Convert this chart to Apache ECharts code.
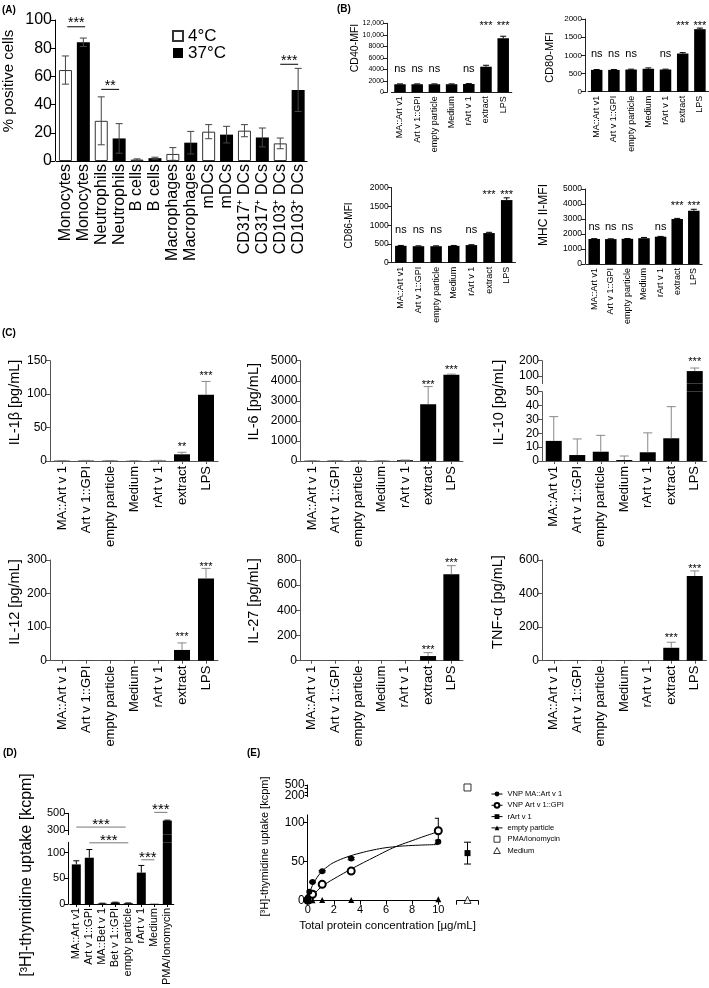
<!DOCTYPE html>
<html><head><meta charset="utf-8">
<script src="https://cdn.jsdelivr.net/npm/echarts@6/dist/echarts.min.js"></script>
<style>html,body{margin:0;padding:0;background:#fff}#c{width:709px;height:988px}</style>
</head><body><div id="c"></div>
<script>
// ================= DATA =================
// (A)
const cellTypes = ['Monocytes','Neutrophils','B cells','Macrophages','mDCs','CD317⁺ DCs','CD103⁺ DCs'];
const pos4C  = [64.5, 28.5, 1.0, 5.0, 20.8, 21.5, 12.5];
const err4C  = [10, 17, 0.5, 4.5, 5, 4.3, 3.8];
const pos37C = [84.2, 16.0, 2.0, 13.0, 18.7, 16.7, 50.4];
const err37C = [3, 10.5, 0.7, 8, 5.9, 6.7, 15.3];
const sigA   = [[0.1, 1.1, 95.2, '***'], [2, 3, 50.8, '**'], [12, 13, 68.6, '***']];
// (B)
const stimB  = ['MA::Art v1','Art v 1::GPI','empty particle','Medium','rArt v 1','extract','LPS'];
const sigB   = ['ns','ns','ns','','ns','***','***'];
const cd40   = [1400, 1400, 1400, 1400, 1450, 4450, 9400];
const cd40E  = [60, 60, 60, 60, 60, 250, 350];
const cd80   = [600, 600, 610, 630, 610, 1050, 1720];
const cd80E  = [10, 10, 10, 25, 10, 25, 30];
const cd86   = [450, 440, 440, 450, 470, 790, 1670];
const cd86E  = [10, 10, 10, 10, 10, 20, 60];
const mhc2   = [1670, 1660, 1680, 1720, 1820, 3000, 3550];
const mhc2E  = [20, 20, 20, 50, 20, 40, 100];
// (C)
const stimC  = ['MA::Art v 1','Art v 1::GPI','empty particle','Medium','rArt v 1','extract','LPS'];
const stimC10= ['MA::Art v1','Art v 1::GPI','empty particle','Medium','rArt v 1','extract','LPS'];
const il1b   = [0.5, 0.6, 0.5, 0.3, 0.6, 10, 99];
const il1bE  = [0.3, 0.3, 0.3, 0.2, 0.4, 3, 20];
const il1bS  = [[5, 25.4, '**'], [6, 131.6, '***']];
const il6    = [15, 20, 20, 15, 40, 2830, 4300];
const il6E   = [5, 5, 5, 5, 10, 880, 30];
const il6S   = [[5, 3915, '***'], [6, 4650, '***']];
const il10   = [14.5, 4.3, 6.7, 0.7, 6.3, 16.4, 132];
const il10E  = [17.5, 11.6, 11.8, 2.9, 14, 22.8, 20];
const il10S  = [[6, 206, '***']];
const il12   = [0.3, 0.3, 0.3, 0.3, 0.5, 32, 245];
const il12E  = [0, 0, 0, 0, 0, 21, 30];
const il12S  = [[5, 78.6, '***'], [6, 288, '***']];
const il27   = [0.5, 0.5, 0.5, 0.5, 1, 37, 686];
const il27E  = [0, 0, 0, 0, 0, 27, 69];
const il27S  = [[5, 106, '***'], [6, 800, '***']];
const tnfa   = [1, 1, 1.5, 1, 1, 77, 505];
const tnfaE  = [0, 0, 0, 0, 0, 33, 30];
const tnfaS  = [[5, 153, '***'], [6, 560, '***']];
// (D)
const stimD  = ['MA::Art v1','Art v 1::GPI','MA::Bet v 1','Bet v 1::GPI','empty particle','rArt v 1','Medium','PMA/Ionomycin'];
const thyD   = [77, 90, 1, 3, 1.5, 61, 0.5, 415];
const thyDE  = [7, 16, 0.5, 0.5, 0.5, 14, 0, 5];
const sigDup = [[0, 3.8, 339, '***'], [6, 7, 511, '***']];
const sigDlo = [[1, 4, 119, '***'], [5, 6, 86, '***']];
// (E)
const conc    = [0.0137, 0.041, 0.123, 0.37, 1.11, 3.33, 10];
const vnpMA   = [1, 3, 11.5, 24, 37.7, 54, 75.6];
const vnpMAE  = [0, 0, 0, 1, 1, 1.5, 2];
const vnpGPI  = [0.5, 1.5, 3.5, 8.2, 21, 38, 89.7];
const vnpGPIE = [0, 0, 0, 1, 2, 3, 16];
const emptyP  = [0.3, 0.3, 0.5, 0.5, 0.8, 1, 2];
const fitX    = [0, 0.1, 0.25, 0.5, 1, 1.5, 2, 3, 4, 5, 6, 6.5, 7, 8, 9, 10];
const fitMA   = [0, 7, 15, 24, 36, 43.5, 49, 56, 61, 65, 68, 68.9, 69.8, 70.8, 71.5, 72];
const fitGPI  = [0, 1.8, 4.5, 9, 17, 23, 28, 37.5, 46.5, 55, 63.5, 67.5, 71, 77, 83, 88.5];
const rArtE   = 61, rArtEErr = 14, pmaE = 430, mediumE = 1;

// ================= BUILD =================
const F = '"Liberation Sans", Arial, Helvetica, sans-serif';
const plain = v => String(v);
const grid = [], xAxis = [], yAxis = [], series = [], graphic = [];

function panel(c) {
  const gi = grid.length;
  grid.push({left: c.rect[0], top: c.rect[1], width: c.rect[2], height: c.rect[3]});
  const lc = c.lineColor || '#000';
  xAxis.push({type: 'category', gridIndex: gi, data: c.cats, boundaryGap: true, show: c.xShow !== false,
    axisLine: {onZero: false, lineStyle: {color: lc, width: 1}},
    axisTick: {show: !!c.xTick, alignWithLabel: true, length: 3, lineStyle: {color: lc}},
    axisLabel: {interval: 0, rotate: 90, fontSize: c.xFont, fontFamily: F, color: '#000', margin: c.xMargin || 4},
    splitLine: {show: false}});
  const ya = {type: 'value', gridIndex: gi, min: c.min, max: c.max, offset: c.yOffset || 0, show: c.yShow !== false,
    axisLine: {show: true, onZero: false, lineStyle: {color: lc, width: 1}},
    axisTick: {show: true, length: 4, lineStyle: {color: lc}},
    axisLabel: {fontSize: c.yFont, fontFamily: F, color: '#000', margin: 3, hideOverlap: false, formatter: c.fmt || plain},
    splitLine: {show: false}};
  if (c.interval) ya.interval = c.interval;
  if (c.labels) { ya.axisLabel.customValues = c.labels; ya.axisTick.customValues = c.ticks || c.labels; }
  yAxis.push(ya);
  return gi;
}
function bars(gi, data, o) {
  series.push({type: 'bar', name: o.name, xAxisIndex: gi, yAxisIndex: gi, data: data, barWidth: o.bw,
    barGap: '-100%', clip: true, silent: true, z: 2,
    itemStyle: {color: o.fill || '#000', borderColor: o.border || o.fill || '#000', borderWidth: o.borderW || 0}});
}
function errs(gi, vals, err, o) {
  const d = [];
  vals.forEach((v, i) => { if (v !== '-' && err[i]) d.push([o.xs ? o.xs[i] : i, v, err[i]]); });
  series.push({type: 'custom', xAxisIndex: gi, yAxisIndex: gi, clip: true, silent: true, z: 4, data: d,
    renderItem: (p, api) => {
      const x = api.value(0), v = api.value(1), e = api.value(2);
      const t = api.coord([x, v + e]), b = api.coord([x, o.down ? v - e : v]);
      const cw = o.cap, st = {stroke: o.color || '#000', lineWidth: 1};
      const ch = [{type: 'line', shape: {x1: t[0], y1: t[1], x2: b[0], y2: b[1]}, style: st},
                  {type: 'line', shape: {x1: t[0] - cw, y1: t[1], x2: t[0] + cw, y2: t[1]}, style: st}];
      if (o.down) ch.push({type: 'line', shape: {x1: b[0] - cw, y1: b[1], x2: b[0] + cw, y2: b[1]}, style: st});
      return {type: 'group', children: ch};
    }});
}
function texts(gi, items, font) {
  series.push({type: 'custom', xAxisIndex: gi, yAxisIndex: gi, clip: false, silent: true, z: 6,
    data: items.map(it => [it[0], it[1]]),
    renderItem: (p, api) => {
      const it = items[p.dataIndex];
      const c = api.coord([api.value(0), api.value(1)]);
      const dy = it[2].indexOf('*') >= 0 ? 0.24 * font : 0;
      return {type: 'text', x: c[0], y: c[1] + dy,
        style: {text: it[2], fontSize: font, fontFamily: F, fill: '#000', align: 'center', verticalAlign: 'middle'}};
    }});
}
function sigLines(gi, items, o) {
  series.push({type: 'custom', xAxisIndex: gi, yAxisIndex: gi, clip: false, silent: true, z: 6,
    data: items.map(it => [0, it[2]]),
    renderItem: (p, api) => {
      const it = items[p.dataIndex];
      const bw = api.size([1, 0])[0];
      const c = api.coord([0, it[2]]);
      const x1 = c[0] + it[0] * bw, x2 = c[0] + it[1] * bw, y = c[1];
      return {type: 'group', children: [
        {type: 'line', shape: {x1: x1, y1: y, x2: x2, y2: y}, style: {stroke: o.color, lineWidth: 1}},
        {type: 'text', x: (x1 + x2) / 2, y: y - o.gap + 0.24 * o.font,
          style: {text: it[3], fontSize: o.font, fontFamily: F, fill: '#000', align: 'center', verticalAlign: 'middle'}}]};
    }});
}
// filler between the two halves of a broken axis: bars that pass the break stay continuous
function bridge(rect, cats, vals, breakAt, bw) {
  const gi = grid.length;
  grid.push({left: rect[0], top: rect[1], width: rect[2], height: rect[3]});
  xAxis.push({type: 'category', gridIndex: gi, data: cats, show: false});
  yAxis.push({type: 'value', gridIndex: gi, min: 0, max: 1, show: false});
  bars(gi, vals.map(v => v > breakAt ? 1 : '-'), {bw: bw});
}
function vtitle(x, y, text, size) {
  graphic.push({type: 'text', x: x, y: y, rotation: Math.PI / 2, silent: true,
    style: {text: text, fontSize: size, fontFamily: F, fill: '#000', align: 'center', verticalAlign: 'middle'}});
}
function htext(x, y, text, size, bold, align) {
  graphic.push({type: 'text', x: x, y: y, silent: true,
    style: {text: text, fontSize: size, fontFamily: F, fontWeight: bold ? 'bold' : 'normal', fill: '#000',
      align: align || 'left', verticalAlign: 'middle'}});
}
const sigItems = (levels) => sigB.map((s, i) => s ? [i, s === 'ns' ? levels[0] : levels[1], s] : null).filter(Boolean);

// ---------- (A) ----------
const catsA = []; const dA4 = [], dA37 = [], eA = [], vA = [];
cellTypes.forEach((c, i) => {
  catsA.push(c, c);
  dA4.push(pos4C[i], '-'); dA37.push('-', pos37C[i]);
  vA.push(pos4C[i], pos37C[i]); eA.push(err4C[i], err37C[i]);
});
const gA = panel({rect: [56.5, 20, 250.6, 141], cats: catsA, min: 0, max: 100, interval: 20,
  yOffset: 1.5, xFont: 16, yFont: 16, xMargin: 3});
bars(gA, dA4, {name: '4°C', bw: 13, fill: '#fff', border: '#333', borderW: 1});
bars(gA, dA37, {name: '37°C', bw: 13, fill: '#000'});
errs(gA, vA, eA, {cap: 3.5, down: true, color: '#444'});
sigLines(gA, sigA, {color: '#000', gap: 6.5, font: 14});
vtitle(9, 81, '% positive cells', 15);

// ---------- (B) ----------
const fmtB = v => v >= 10000 ? v.toLocaleString('en-US') : String(v);
const bCfg = {xFont: 9, yFont: 8, xMargin: 4, lineColor: '#222'};
const g40 = panel(Object.assign({rect: [391.4, 23.3, 120.4, 69], cats: stimB, min: 0, max: 12000, interval: 2000, yOffset: 4.4, fmt: fmtB}, bCfg, {yFont: 7}));
bars(g40, cd40, {bw: 11.5}); errs(g40, cd40, cd40E, {cap: 3, color: '#000'});
texts(g40, sigItems([4000, 12000]), 11);
const g80 = panel(Object.assign({rect: [588.1, 19, 120.4, 72.7], cats: stimB, min: 0, max: 2000, interval: 500, yOffset: 3.1}, bCfg));
bars(g80, cd80, {bw: 11.5}); errs(g80, cd80, cd80E, {cap: 3, color: '#000'});
texts(g80, sigItems([1037, 1882]), 11);
const g86 = panel(Object.assign({rect: [392, 187.7, 123.5, 75], cats: stimB, min: 0, max: 2000, interval: 500, yOffset: 0.3}, bCfg, {yFont: 8.5}));
bars(g86, cd86, {bw: 11.5}); errs(g86, cd86, cd86E, {cap: 3, color: '#000'});
texts(g86, sigItems([872, 1867]), 11);
const gMH = panel(Object.assign({rect: [585.9, 189, 116.2, 75], cats: stimB, min: 0, max: 5000, interval: 1000, yOffset: 0.9}, bCfg, {yFont: 8.5}));
bars(gMH, mhc2, {bw: 11.5}); errs(gMH, mhc2, mhc2E, {cap: 3, color: '#000'});
texts(gMH, sigItems([2487, 4047]), 11);
vtitle(355, 48, 'CD40-MFI', 10.5);
vtitle(549.7, 57.5, 'CD80-MFI', 11);
vtitle(349, 225.5, 'CD86-MFI', 10);
vtitle(543.3, 215, 'MHC II-MFI', 12);

// ---------- (C) ----------
const cCfg = {xFont: 13, yFont: 12, xMargin: 5, xTick: true, lineColor: '#555'};
const cErr = {cap: 4.5, color: '#888'};
const g1b = panel(Object.assign({rect: [50, 360.7, 168, 100.3], cats: stimC, min: 0, max: 150, interval: 50}, cCfg));
bars(g1b, il1b, {bw: 16}); errs(g1b, il1b, il1bE, cErr); texts(g1b, il1bS, 11);
const g6 = panel(Object.assign({rect: [300.5, 360.7, 162.5, 100.3], cats: stimC, min: 0, max: 5000, interval: 1000}, cCfg));
bars(g6, il6, {bw: 16}); errs(g6, il6, il6E, cErr); texts(g6, il6S, 11);
const g10lo = panel(Object.assign({rect: [542, 391.7, 164.5, 69.3], cats: stimC10, min: 0, max: 50, interval: 10}, cCfg));
bars(g10lo, il10, {bw: 16}); errs(g10lo, il10, il10E, cErr);
const g10up = panel(Object.assign({rect: [542, 360.7, 164.5, 22.9], cats: stimC10, min: 50, max: 200, labels: [100, 200], xShow: false}, cCfg));
bars(g10up, il10, {bw: 16}); errs(g10up, il10, il10E, cErr); texts(g10up, il10S, 11);
bridge([542, 383.6, 164.5, 8.1], stimC10, il10, 50, 16);
const g12 = panel(Object.assign({rect: [50, 560, 168, 100.7], cats: stimC, min: 0, max: 300, interval: 100}, cCfg));
bars(g12, il12, {bw: 16}); errs(g12, il12, il12E, cErr); texts(g12, il12S, 11);
const g27 = panel(Object.assign({rect: [300, 560, 163, 100.7], cats: stimC, min: 0, max: 800, interval: 200}, cCfg));
bars(g27, il27, {bw: 16}); errs(g27, il27, il27E, cErr); texts(g27, il27S, 11);
const gTN = panel(Object.assign({rect: [542, 560, 164.5, 100.7], cats: stimC, min: 0, max: 600, interval: 200}, cCfg));
bars(gTN, tnfa, {bw: 16}); errs(gTN, tnfa, tnfaE, cErr); texts(gTN, tnfaS, 11);
vtitle(15, 402.5, 'IL-1β [pg/mL]', 14.5);
vtitle(254, 401.7, 'IL-6 [pg/mL]', 14.5);
vtitle(499, 402.5, 'IL-10 [pg/mL]', 14.5);
vtitle(15, 602, 'IL-12 [pg/mL]', 14.5);
vtitle(254, 601, 'IL-27 [pg/mL]', 14.5);
vtitle(498, 602, 'TNF-α [pg/mL]', 14.5);

// ---------- (D) ----------
const dCfg = {xFont: 11, yFont: 11, xMargin: 4, xTick: true, lineColor: '#000', yOffset: 1.5};
const gDlo = panel(Object.assign({rect: [69.8, 842.3, 104, 61.7], cats: stimD, min: 0, max: 120, labels: [0, 50, 100]}, dCfg));
bars(gDlo, thyD, {bw: 9}); errs(gDlo, thyD, thyDE, {cap: 3, color: '#000'});
const gDup = panel(Object.assign({rect: [69.8, 813.3, 104, 21.4], cats: stimD, min: 250, max: 500, labels: [300, 500], xShow: false}, dCfg));
bars(gDup, thyD, {bw: 9}); errs(gDup, thyD, thyDE, {cap: 3, color: '#000'});
bridge([69.8, 834.7, 104, 7.6], stimD, thyD, 120, 9);
sigLines(gDlo, sigDlo, {color: '#777', gap: 6, font: 15});
sigLines(gDup, sigDup, {color: '#777', gap: 6.3, font: 15});
vtitle(27, 875, '[³H]-thymidine uptake [kcpm]', 16);

// ---------- (E) ----------
const axBase = (lc) => ({axisLine: {show: true, onZero: false, lineStyle: {color: lc, width: 1}}, splitLine: {show: false}});
const eLo = grid.length; grid.push({left: 307.7, top: 814.9, width: 130.6, height: 85.8});
xAxis.push(Object.assign({type: 'value', gridIndex: eLo, min: 0, max: 10, interval: 2,
  axisTick: {length: 4, lineStyle: {color: '#000'}}, axisLabel: {fontSize: 11, fontFamily: F, color: '#000', margin: 4, formatter: plain}}, axBase('#000')));
yAxis.push(Object.assign({type: 'value', gridIndex: eLo, min: 0, max: 110,
  axisTick: {length: 4, customValues: [0, 50, 100], lineStyle: {color: '#000'}},
  axisLabel: {customValues: [0, 50, 100], fontSize: 12, fontFamily: F, color: '#000', margin: 3, formatter: plain}}, axBase('#000')));
const eUp = grid.length; grid.push({left: 307.7, top: 785, width: 130.6, height: 11.7});
xAxis.push({type: 'value', gridIndex: eUp, min: 0, max: 10, show: false});
yAxis.push(Object.assign({type: 'value', gridIndex: eUp, min: 170, max: 500,
  axisTick: {length: 3, customValues: [200, 300, 400, 500], lineStyle: {color: '#000'}},
  axisLabel: {customValues: [500], fontSize: 12, fontFamily: F, color: '#000', margin: 3, hideOverlap: false, formatter: plain}}, axBase('#000')));
// second (label-only) axis on the same short segment, so the stacked "200" label is not dropped
yAxis.push({type: 'value', gridIndex: eUp, min: 170, max: 500, position: 'left', offset: 0,
  axisLine: {show: false}, axisTick: {show: false}, splitLine: {show: false},
  axisLabel: {customValues: [200], fontSize: 12, fontFamily: F, color: '#000', margin: 3, hideOverlap: false, formatter: plain}});
const cLo = grid.length; grid.push({left: 456.7, top: 814.9, width: 21.6, height: 85.8});
xAxis.push(Object.assign({type: 'category', gridIndex: cLo, data: [''], boundaryGap: true,
  axisTick: {show: true, alignWithLabel: false, length: 4, lineStyle: {color: '#000'}}, axisLabel: {show: false}}, axBase('#000')));
const cLoY = yAxis.length;
yAxis.push({type: 'value', gridIndex: cLo, min: 0, max: 110, show: false});
const cUp = grid.length; grid.push({left: 456.7, top: 785, width: 21.6, height: 11.7});
const cUpX = xAxis.length;
xAxis.push({type: 'category', gridIndex: cUp, data: [''], show: false});
const cUpY = yAxis.length;
yAxis.push({type: 'value', gridIndex: cUp, min: 170, max: 500, show: false});
const cLoX = cLo; // x axes index equals grid index up to here

const fitStyle = {type: 'line', xAxisIndex: eLo, yAxisIndex: eLo, smooth: 0.4, symbol: 'none', silent: true,
  lineStyle: {color: '#000', width: 1}, z: 3};
series.push(Object.assign({name: 'fitMA', data: fitX.map((x, i) => [x, fitMA[i]])}, fitStyle));
series.push(Object.assign({name: 'fitGPI', data: fitX.map((x, i) => [x, fitGPI[i]])}, fitStyle));
const ptLine = {type: 'line', silent: true, lineStyle: {width: 0, opacity: 0}, z: 5, showSymbol: true};
series.push(Object.assign({name: 'empty particle', xAxisIndex: eLo, yAxisIndex: eLo, data: conc.map((x, i) => [x, emptyP[i]]),
  symbol: 'triangle', symbolSize: 6, itemStyle: {color: '#000'}}, ptLine));
series.push(Object.assign({name: 'VNP Art v 1::GPI', xAxisIndex: eLo, yAxisIndex: eLo, data: conc.map((x, i) => [x, vnpGPI[i]]),
  symbol: 'emptyCircle', symbolSize: 7, itemStyle: {color: '#000', borderWidth: 1}}, ptLine));
series.push(Object.assign({name: 'VNP MA::Art v 1', xAxisIndex: eLo, yAxisIndex: eLo, data: conc.map((x, i) => [x, vnpMA[i]]),
  symbol: 'circle', symbolSize: 6, itemStyle: {color: '#000'}}, ptLine));
series.push(Object.assign({name: 'rArt v 1', xAxisIndex: cLoX, yAxisIndex: cLoY, data: [[0, rArtE]],
  symbol: 'rect', symbolSize: 6, itemStyle: {color: '#000'}}, ptLine));
series.push({type: 'scatter', name: 'PMA/Ionomycin', xAxisIndex: cUpX, yAxisIndex: cUpY, data: [[0, pmaE]], silent: true,
  symbol: 'rect', symbolSize: 7, itemStyle: {color: '#fff', borderColor: '#000', borderWidth: 1}, z: 5});
series.push({type: 'scatter', name: 'Medium', xAxisIndex: cLoX, yAxisIndex: cLoY, data: [[0, mediumE]], silent: true,
  symbol: 'triangle', symbolSize: 7, itemStyle: {color: '#fff', borderColor: '#000', borderWidth: 1}, z: 5});
errs(eLo, vnpGPI, vnpGPIE, {xs: conc, cap: 3.5, down: true, color: '#000'});
errs(eLo, vnpMA, vnpMAE, {xs: conc, cap: 3.5, down: true, color: '#000'});
// rArt error bar in the control strip
series.push({type: 'custom', xAxisIndex: cLoX, yAxisIndex: cLoY, clip: true, silent: true, z: 4, data: [[0, rArtE, rArtEErr]],
  renderItem: (p, api) => {
    const v = api.value(1), e = api.value(2);
    const t = api.coord([0, v + e]), b = api.coord([0, v - e]), st = {stroke: '#000', lineWidth: 1};
    return {type: 'group', children: [
      {type: 'line', shape: {x1: t[0], y1: t[1], x2: b[0], y2: b[1]}, style: st},
      {type: 'line', shape: {x1: t[0] - 3.5, y1: t[1], x2: t[0] + 3.5, y2: t[1]}, style: st},
      {type: 'line', shape: {x1: b[0] - 3.5, y1: b[1], x2: b[0] + 3.5, y2: b[1]}, style: st}]};
  }});
vtitle(265, 846.5, '[³H]-thymidine uptake [kcpm]', 11);
htext(387.5, 926, 'Total protein concentration [µg/mL]', 11.5, false, 'center');

// panel letters
htext(2, 10, '(A)', 10, true); htext(337, 9, '(B)', 10, true); htext(2, 333, '(C)', 10, true);
htext(3, 753, '(D)', 10, true); htext(247, 753, '(E)', 10, true);

const chart = echarts.init(document.getElementById('c'), null, {renderer: 'canvas'});
chart.setOption({
  animation: false,
  backgroundColor: '#fff',
  grid: grid, xAxis: xAxis, yAxis: yAxis, series: series, graphic: graphic,
  legend: [
    {data: ['4°C', '37°C'], orient: 'vertical', left: 167, top: 22.5, itemWidth: 10, itemHeight: 10, itemGap: 0,
      icon: 'rect', selectedMode: false, textStyle: {fontSize: 17, fontFamily: F, color: '#000', lineHeight: 17}},
    {data: ['VNP MA::Art v 1', 'VNP Art v 1::GPI', 'rArt v 1', 'empty particle',
            {name: 'PMA/Ionomycin', icon: 'path://M0,0L10,0L10,10L0,10Z'},
            {name: 'Medium', icon: 'path://M5,0L10,9L0,9Z'}],
      orient: 'vertical', left: 486, top: 784.5, itemWidth: 11, itemHeight: 6, itemGap: 2.3, selectedMode: false,
      lineStyle: {width: 1, opacity: 1, color: '#000'}, itemStyle: {borderWidth: 1},
      textStyle: {fontSize: 7.5, fontFamily: F, color: '#000', lineHeight: 9}}
  ]
});
</script></body></html>
